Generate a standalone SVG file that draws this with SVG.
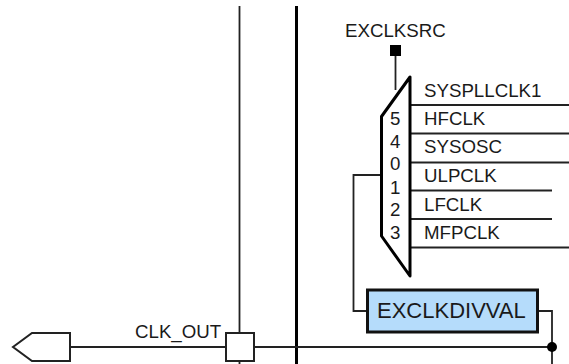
<svg xmlns="http://www.w3.org/2000/svg" width="569" height="364" viewBox="0 0 569 364">
<style>
text{font-family:"Liberation Sans",Arial,sans-serif;font-size:18.7px;fill:#1a1a1a}
.w{fill:none;stroke:#222;stroke-width:1.8}
.n{fill:none;stroke:#222;stroke-width:2}
.b{fill:none;stroke:#000;stroke-width:3}
</style>
<rect width="569" height="364" fill="#fff"/>
<g id="connectors">
<path class="w" d="M239.500 6V333M239.500 360V364"/>
<path class="b" d="M296.500 6V364"/>
<path class="n" d="M70 347H226M254 347H552"/>
<path class="w" d="M395.500 54V90"/>
<path class="w" d="M411 105H569M411 133.500H569M411 162.500H569M411 190.500H552M411 219H552M411 247.500H569"/>
<path class="w" d="M381 175H353.500V311H367"/>
<path class="w" d="M538 311H552V364"/>
<circle cx="552" cy="347" r="5" fill="#000"/>
</g>
<g id="exclksrc">
<rect x="390" y="45" width="11" height="11" fill="#000"/>
<text x="345" y="37">EXCLKSRC</text>
</g>
<g id="mux">
<path d="M381.500 116.500L410 77V276L381.500 236Z" fill="#fff" stroke="#000" stroke-width="3" stroke-linejoin="round"/>
<text x="390" y="125">5</text>
<text x="390" y="148">4</text>
<text x="390" y="170">0</text>
<text x="390" y="194">1</text>
<text x="390" y="216">2</text>
<text x="390" y="239">3</text>
</g>
<g id="inputs">
<text x="424" y="97">SYSPLLCLK1</text>
<text x="424" y="125">HFCLK</text>
<text x="424" y="153">SYSOSC</text>
<text x="424" y="182">ULPCLK</text>
<text x="424" y="211">LFCLK</text>
<text x="424" y="239">MFPCLK</text>
</g>
<g id="exclkdivval">
<rect x="367.500" y="290" width="170" height="42" fill="#b5dcfb" stroke="#111" stroke-width="3"/>
<text x="377" y="318" style="font-size:22px">EXCLKDIVVAL</text>
</g>
<g id="clk-out-pin">
<path d="M70 333H32L13 347L32 361H70Z" fill="#fff" stroke="#222" stroke-width="2"/>
</g>
<g id="clk-out">
<rect x="226" y="333" width="28" height="28" fill="#fff" stroke="#222" stroke-width="2"/>
<text x="135" y="338">CLK_OUT</text>
</g>
</svg>
